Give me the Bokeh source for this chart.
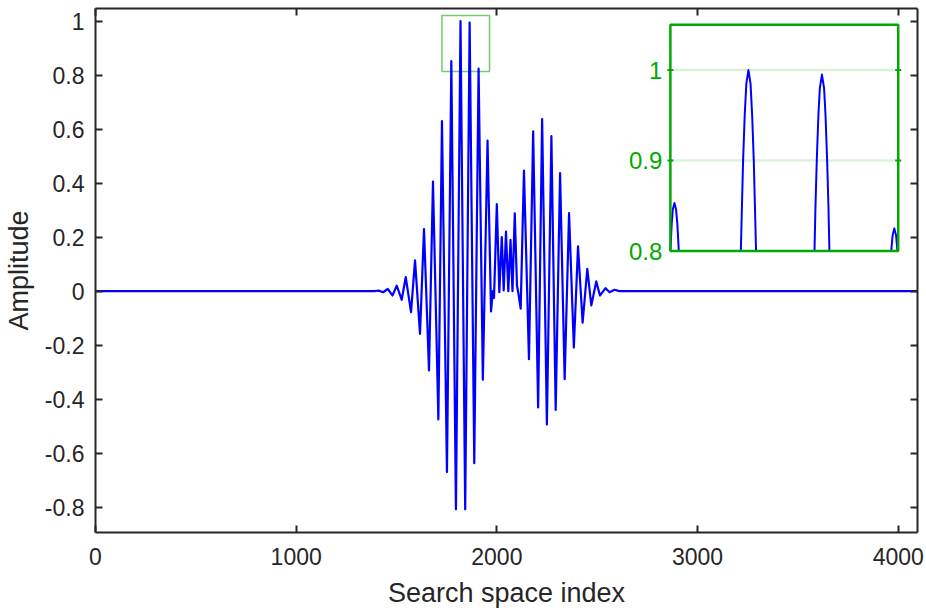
from bokeh.plotting import figure
from bokeh.models import Range1d, LinearAxis, FixedTicker
from bokeh.core.properties import value
from bokeh.embed import file_html
from bokeh.resources import INLINE

# ---------------- data ----------------
sig_x = [0, 1390, 1411, 1433.5, 1456, 1479.8, 1501.2, 1526.0, 1545.9, 1572.3,
         1592.2, 1617.0, 1636.9, 1661.8, 1681.6, 1708.5, 1726.4, 1751.3, 1773.1,
         1796.0, 1818.8, 1842.2, 1864.3, 1887.4, 1908.9, 1930.2, 1953.5, 1970.9,
         1979.9, 1985.8, 1999.8, 2012.2, 2024.6, 2034.0, 2045.5, 2056.9, 2067.9,
         2077.8, 2089.2, 2100.2, 2106.7, 2118.6, 2135.0, 2159.9, 2180.8, 2205.6,
         2225.5, 2249.3, 2271.7, 2293.1, 2315.0, 2337.8, 2359.7, 2383.6, 2404.4,
         2427.3, 2450.6, 2470.5, 2495.3, 2513.7, 2541.6, 2561.5, 2586.3, 2610, 4096]
sig_y = [0, 0, 0.002, -0.004, 0.008, -0.016, 0.020, -0.032, 0.052, -0.078,
         0.114, -0.158, 0.230, -0.294, 0.406, -0.475, 0.630, -0.670, 0.852,
         -0.808, 1.000, -0.808, 0.995, -0.637, 0.824, -0.328, 0.558, -0.075,
         0.0, -0.025, 0.322, -0.004, 0.200, 0.003, 0.221, 0.0, 0.190,
         0.0, 0.288, 0.02, -0.005, -0.065, 0.447, -0.252, 0.592, -0.431,
         0.637, -0.494, 0.574, -0.440, 0.437, -0.326, 0.289, -0.209, 0.166,
         -0.117, 0.083, -0.053, 0.036, -0.016, 0.011, -0.004, 0.005, 0, 0]

# peaks as seen inside the magnified inset
inset_xs = [
    [1770.6, 1771.4, 1772.1, 1773.1, 1774.1, 1774.9, 1775.8],
    [1814.1, 1814.8, 1815.5, 1816.5, 1817.5, 1818.8, 1820.1, 1821.1, 1822.1, 1822.8, 1823.5],
    [1859.6, 1860.2, 1861.0, 1862.0, 1862.9, 1864.2, 1865.5, 1866.4, 1867.4, 1868.2, 1868.8],
    [1907.0, 1907.8, 1908.9, 1910.0, 1910.8],
]
inset_ys = [
    [0.800, 0.830, 0.846, 0.853, 0.846, 0.830, 0.800],
    [0.80, 0.85, 0.90, 0.95, 0.985, 1.0, 0.985, 0.95, 0.90, 0.85, 0.80],
    [0.80, 0.85, 0.90, 0.95, 0.98, 0.995, 0.98, 0.95, 0.90, 0.85, 0.80],
    [0.800, 0.817, 0.825, 0.817, 0.800],
]

x_ticks = [0, 1000, 2000, 3000, 4000]
x_tick_labels = ["0", "1000", "2000", "3000", "4000"]
y_ticks = [-0.8, -0.6, -0.4, -0.2, 0, 0.2, 0.4, 0.6, 0.8, 1]
y_tick_labels = ["-0.8", "-0.6", "-0.4", "-0.2", "0", "0.2", "0.4", "0.6", "0.8", "1"]

inset_xlim = [1770.6, 1911.3]
inset_ylim = [0.8, 1.05]
inset_ticks = [0.8, 0.9, 1.0]
inset_tick_labels = ["0.8", "0.9", "1"]
inset_grid = [0.9, 1.0]

zoom_box_x = [1726.4, 1963.5]
zoom_box_y = [0.814, 1.021]

# ---------------- styling ----------------
FONT = "Liberation Sans"
DARK = "#262626"
BLUE = "#0000FF"
GREEN = "#00AA00"

p = figure(width=926, height=613, output_backend="svg", toolbar_location=None,
           x_range=Range1d(0, 4096), y_range=Range1d(-0.894, 1.047),
           x_axis_type=None, y_axis_type=None,
           min_border_left=93, min_border_right=9, min_border_top=8, min_border_bottom=81)
p.grid.visible = False
p.outline_line_color = None
p.background_fill_color = "white"
p.border_fill_color = "white"

p.extra_x_ranges = {"ix": Range1d(1415.6, 1923.2)}
p.extra_y_ranges = {"iy": Range1d(0.4889, 1.068)}


def style_axis(ax, labels_on, ticks, labels):
    ax.ticker = FixedTicker(ticks=ticks)
    ax.major_label_overrides = {t: l for t, l in zip(ticks, labels)}
    ax.minor_tick_line_color = None
    ax.major_tick_in = 7
    ax.major_tick_out = 0
    ax.major_tick_line_width = 2
    ax.major_tick_line_color = DARK
    ax.axis_line_width = 2
    ax.axis_line_color = DARK
    ax.major_label_text_font = FONT
    ax.major_label_text_color = DARK
    ax.axis_label_text_font = FONT
    ax.axis_label_text_color = DARK
    ax.axis_label_text_font_style = "normal"
    if labels_on:
        ax.major_label_text_font_size = "23px"
        ax.axis_label_text_font_size = "27px"
    else:
        ax.major_label_text_font_size = "0px"
        ax.major_label_standoff = 0


xb = LinearAxis(axis_label="Search space index")
style_axis(xb, True, x_ticks, x_tick_labels)
xb.major_label_standoff = 15
xb.axis_label_standoff = 10
p.add_layout(xb, "below")

yl = LinearAxis(axis_label="Amplitude")
style_axis(yl, True, y_ticks, y_tick_labels)
yl.major_label_standoff = 11
yl.axis_label_standoff = 8
p.add_layout(yl, "left")

xt = LinearAxis()
style_axis(xt, False, x_ticks, ["" for _ in x_ticks])
p.add_layout(xt, "above")

yr = LinearAxis()
style_axis(yr, False, y_ticks, ["" for _ in y_ticks])
p.add_layout(yr, "right")

# zoom rectangle on main plot
p.quad(left=[zoom_box_x[0]], right=[zoom_box_x[1]], bottom=[zoom_box_y[0]], top=[zoom_box_y[1]],
       fill_color=None, line_color="#6CCF6C", line_width=1.5)

# main signal
p.line(sig_x, sig_y, line_color=BLUE, line_width=2.2, line_join="round")

# inset
p.quad(left=[inset_xlim[0]], right=[inset_xlim[1]], bottom=[inset_ylim[0]], top=[inset_ylim[1]],
       fill_color="white", line_color=None, x_range_name="ix", y_range_name="iy")
p.segment(x0=[inset_xlim[0]] * len(inset_grid), x1=[inset_xlim[1]] * len(inset_grid),
          y0=inset_grid, y1=inset_grid, line_color=GREEN, line_alpha=0.15, line_width=2.5,
          x_range_name="ix", y_range_name="iy")
p.multi_line(inset_xs, inset_ys, line_color=BLUE, line_width=2, line_join="round",
             x_range_name="ix", y_range_name="iy")
p.quad(left=[inset_xlim[0]], right=[inset_xlim[1]], bottom=[inset_ylim[0]], top=[inset_ylim[1]],
       fill_color=None, line_color=GREEN, line_width=2.5, x_range_name="ix", y_range_name="iy")
p.scatter(x=[inset_xlim[0]] * len(inset_grid) + [inset_xlim[1]] * len(inset_grid),
          y=inset_grid + inset_grid, marker="dash", size=6, line_color=GREEN, line_width=2,
          x_range_name="ix", y_range_name="iy")
p.text(x=[inset_xlim[0]] * len(inset_ticks), y=inset_ticks, text=inset_tick_labels,
       text_font=value(FONT), text_font_size="24px", text_color=GREEN,
       text_align="right", text_baseline="middle", x_offset=-8,
       x_range_name="ix", y_range_name="iy")

open("out.html", "w").write(file_html(p, INLINE))
